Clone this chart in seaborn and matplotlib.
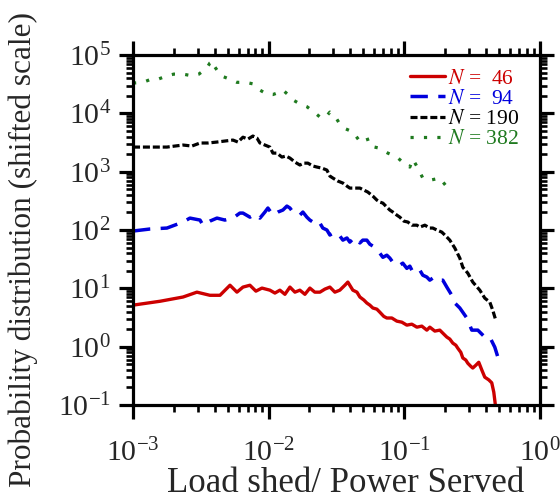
import matplotlib
matplotlib.use("Agg")
import matplotlib.pyplot as plt
import seaborn as sns
import pandas as pd
from matplotlib.ticker import LogLocator, LogFormatterSciNotation, NullFormatter

# ---------------- data ----------------
labels = ["N = 46", "N = 94", "N = 190", "N = 382"]

x46 = [1.00e-3, 1.58e-3, 2.34e-3, 2.96e-3, 3.69e-3, 4.38e-3, 5.19e-3, 5.84e-3, 6.47e-3, 7.28e-3,
       8.06e-3, 8.93e-3, 1.022e-2, 1.113e-2, 1.211e-2, 1.319e-2, 1.436e-2, 1.563e-2, 1.70e-2, 1.852e-2,
       2.015e-2, 2.19e-2, 2.39e-2, 2.60e-2, 2.83e-2, 3.08e-2, 3.35e-2, 3.65e-2, 3.84e-2, 4.18e-2,
       4.48e-2, 4.71e-2, 5.04e-2, 5.30e-2, 5.58e-2, 5.87e-2, 6.28e-2, 6.61e-2, 7.07e-2, 7.44e-2,
       8.10e-2, 8.82e-2, 9.60e-2, 0.1045, 0.1138, 0.1239, 0.1348, 0.1468, 0.1544, 0.1681,
       0.1830, 0.1959, 0.2061, 0.2168, 0.2282, 0.2401, 0.2484, 0.2614, 0.2704, 0.2844,
       0.2943, 0.3097, 0.3203, 0.337, 0.3545, 0.373, 0.3926, 0.420, 0.442, 0.4575, 0.47]
y46 = [5.15, 6.0, 7.1, 8.6, 7.6, 7.6, 11.3, 8.6, 10.5, 11.3,
       8.95, 10.1, 9.3, 8.3, 9.3, 7.9, 10.5, 8.6, 9.3, 7.9,
       10.1, 8.6, 8.6, 9.7, 10.5, 8.6, 9.3, 11.3, 12.8, 9.3,
       8.6, 7.1, 6.3, 5.6, 5.15, 4.6, 4.4, 3.9, 3.3, 3.1,
       3.1, 2.74, 2.63, 2.34, 2.43, 2.16, 2.25, 1.92, 2.16, 1.85,
       1.92, 1.64, 1.46, 1.35, 1.15, 1.06, 0.94, 0.80, 0.64, 0.59,
       0.52, 0.46, 0.43, 0.48, 0.54, 0.40, 0.30, 0.27, 0.24, 0.166, 0.10]

x94 = [1.0e-3, 1.335e-3, 1.78e-3, 2.34e-3, 2.63e-3, 3.12e-3, 3.28e-3, 3.69e-3, 4.16e-3, 4.76e-3,
       5.46e-3, 6.14e-3, 6.47e-3, 7.28e-3, 7.93e-3, 8.63e-3, 9.39e-3, 9.88e-3, 1.076e-2, 1.171e-2,
       1.275e-2, 1.364e-2, 1.436e-2, 1.51e-2, 1.616e-2, 1.70e-2, 1.789e-2, 1.915e-2, 2.015e-2, 2.12e-2,
       2.27e-2, 2.39e-2, 2.51e-2, 2.69e-2, 2.83e-2, 2.98e-2, 3.19e-2, 3.35e-2, 3.53e-2, 3.78e-2,
       3.97e-2, 4.18e-2, 4.48e-2, 4.71e-2, 4.95e-2, 5.30e-2, 5.58e-2, 5.87e-2, 6.28e-2, 6.61e-2,
       6.96e-2, 7.44e-2, 7.83e-2, 8.24e-2, 8.82e-2, 9.28e-2, 9.76e-2, 0.1045, 0.1100, 0.1157,
       0.1239, 0.1303, 0.1371, 0.1468, 0.1544, 0.1625, 0.1739, 0.183, 0.1925, 0.2061,
       0.2243, 0.2361, 0.257, 0.2894, 0.315, 0.349, 0.3926, 0.4275, 0.4654, 0.5064]
y94 = [96, 104, 108, 137, 160, 148, 121, 142, 160, 148,
       160, 195, 195, 166, 187, 160, 203, 238, 180, 203,
       220, 257, 238, 203, 195, 180, 203, 166, 148, 137,
       121, 131, 108, 100, 82, 88, 76, 79, 67, 73,
       62, 70, 73, 60, 67, 67, 57, 53, 45, 40,
       34, 37, 33, 28, 28, 25, 27, 22, 24, 19,
       19, 20.5, 16.8, 15.6, 13.8, 15, 13.3, 13.8, 13.8, 10.5,
       7.6, 5.6, 4.6, 3.1, 1.92, 1.92, 1.46, 1.46, 0.98, 0.52]

x190 = [1.0e-3, 1.335e-3, 1.78e-3, 2.04e-3, 2.34e-3, 2.72e-3, 3.12e-3, 3.57e-3, 4.16e-3, 4.76e-3,
        5.46e-3, 5.94e-3, 6.47e-3, 7.04e-3, 7.66e-3, 8.20e-3, 8.63e-3, 9.39e-3, 1.022e-2, 1.076e-2,
        1.151e-2, 1.253e-2, 1.342e-2, 1.436e-2, 1.563e-2, 1.70e-2, 1.82e-2, 1.948e-2, 2.12e-2, 2.27e-2,
        2.47e-2, 2.69e-2, 2.83e-2, 2.98e-2, 3.24e-2, 3.53e-2, 3.78e-2, 3.97e-2, 4.33e-2, 4.71e-2,
        5.04e-2, 5.39e-2, 5.87e-2, 6.28e-2, 6.61e-2, 6.96e-2, 7.44e-2, 7.83e-2, 8.24e-2, 8.82e-2,
        9.28e-2, 0.0993, 0.1063, 0.1138, 0.1239, 0.1303, 0.1419, 0.1544, 0.1625, 0.1739,
        0.1893, 0.2026, 0.2168, 0.2361, 0.257, 0.2704, 0.2943, 0.3203, 0.3607, 0.3926,
        0.4275, 0.4498, 0.473]
y190 = [2640, 2640, 2640, 2750, 2860, 2750, 3100, 3100, 3220, 3350,
        3480, 3220, 3900, 3620, 4080, 3770, 3100, 2860, 2640, 2080,
        2080, 1780, 1850, 1710, 1460, 1300, 1400, 1400, 1250, 1200,
        1150, 1065, 840, 776, 690, 637, 566, 523, 523, 523,
        483, 447, 381, 326, 301, 289, 247, 220, 203, 180,
        166, 142, 137, 121, 121, 112, 121, 108, 108, 100,
        92, 79, 67, 49, 33, 23, 18.2, 12.8, 9.3, 6.8,
        5.8, 4.2, 2.85]

x382 = [1.0e-3, 1.185e-3, 1.38e-3, 1.555e-3, 1.78e-3, 2.00e-3, 2.34e-3, 2.72e-3, 3.06e-3, 3.51e-3,
        3.69e-3, 3.89e-3, 4.02e-3, 4.45e-3, 5.10e-3, 5.84e-3, 6.80e-3, 7.66e-3, 8.63e-3, 9.71e-3,
        1.076e-2, 1.211e-2, 1.275e-2, 1.388e-2, 1.51e-2, 1.70e-2, 1.915e-2, 2.12e-2, 2.39e-2, 2.60e-2,
        2.83e-2, 3.08e-2, 3.35e-2, 3.71e-2, 4.18e-2, 4.63e-2, 5.30e-2, 5.58e-2, 6.50e-2, 7.57e-2,
        8.82e-2, 0.1010, 0.1100, 0.1157, 0.1260, 0.1371, 0.1571, 0.1830, 0.2095]
y382 = [33000, 34000, 39000, 39000, 44000, 47000, 47000, 44000, 47000, 60000,
        73000, 79000, 62000, 44000, 39000, 34000, 34000, 32000, 25000, 21400,
        21000, 23200, 25000, 21000, 17000, 14500, 13000, 10900, 8650, 8300,
        10500, 9000, 6550, 5400, 4800, 3480, 3900, 2750, 2540, 2080,
        1780, 1350, 1200, 1640, 1150, 776, 718, 776, 523]

colors = ["#cc0000", "#0000dd", "#000000", "#1f7a1f"]

# ---------------- style ----------------
sns.set_style("ticks")
plt.rcParams["font.family"] = ["Liberation Serif", "DejaVu Serif"]
plt.rcParams["mathtext.fontset"] = "stix"

fig = plt.figure(figsize=(5.6, 5.0), dpi=100)
ax = fig.add_axes([0.2375, 0.19, 0.7265, 0.70])

series = [(x46, y46), (x94, y94), (x190, y190), (x382, y382)]
styles = [dict(linestyle="-", linewidth=2.4),
          dict(linestyle=(0, (5, 3)), linewidth=2.5),
          dict(linestyle=(0, (2.2, 0.9)), linewidth=2.3),
          dict(linestyle=(0, (1, 3.2)), linewidth=2.3)]
legend_labels = [r"$N$ =  46", r"$N$ =  94", r"$N$ = 190", r"$N$ = 382"]

for (xs, ys), lab, col, st in zip(series, legend_labels, colors, styles):
    df = pd.DataFrame({"x": xs, "y": ys})
    sns.lineplot(data=df, x="x", y="y", ax=ax, sort=False, estimator=None,
                 color=col, label=lab, **st)

ax.set_xscale("log")
ax.set_yscale("log")
ax.set_xlim(1e-3, 1)
ax.set_ylim(1e-1, 1e5)

ax.xaxis.set_major_locator(LogLocator(base=10, numticks=10))
ax.yaxis.set_major_locator(LogLocator(base=10, numticks=10))
ax.xaxis.set_minor_locator(LogLocator(base=10, subs=range(2, 10), numticks=20))
ax.yaxis.set_minor_locator(LogLocator(base=10, subs=range(2, 10), numticks=20))
ax.xaxis.set_minor_formatter(NullFormatter())
ax.yaxis.set_minor_formatter(NullFormatter())
ax.xaxis.set_major_formatter(LogFormatterSciNotation())
ax.yaxis.set_major_formatter(LogFormatterSciNotation())

for s in ax.spines.values():
    s.set_visible(True)
    s.set_linewidth(2.3)
    s.set_color("black")

ax.tick_params(which="major", direction="out", length=10, width=2.3, top=True, right=True,
               labelsize=21.5, color="black")
ax.tick_params(which="minor", direction="out", length=5, width=1.9, top=True, right=True,
               color="black")
ax.tick_params(axis="x", which="major", pad=14)
ax.tick_params(axis="y", which="major", pad=6)

ax.set_xlabel("Load shed/ Power Served", fontsize=25, labelpad=0)
ax.xaxis.set_label_coords(0.522, -0.178)
ax.set_ylabel("Probability distribution (shifted scale)", fontsize=22.5, labelpad=0)
ax.yaxis.set_label_coords(-0.233, 0.443)

leg = ax.legend(loc="upper right", bbox_to_anchor=(0.97, 0.985), frameon=False,
                fontsize=15.5, handlelength=1.6, handletextpad=0.15, labelspacing=0.0,
                borderaxespad=0, labelcolor="linecolor")

fig.savefig("out.png", dpi=100)
